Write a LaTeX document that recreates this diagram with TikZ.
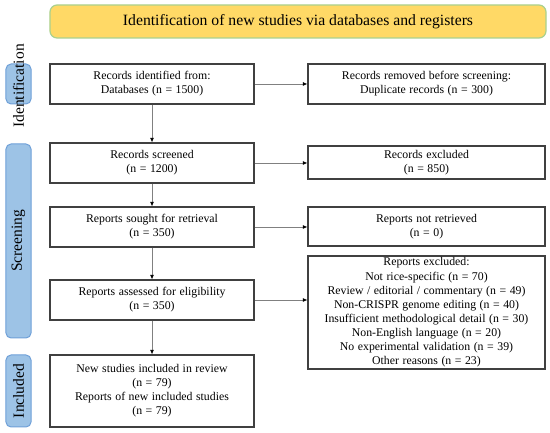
\documentclass[tikz,border=0pt]{standalone}
\usepackage{fontspec}
\setmainfont{Liberation Serif}
\usetikzlibrary{arrows.meta}
\definecolor{boxline}{HTML}{404040}
\definecolor{conn}{HTML}{808080}
\definecolor{titlefill}{HTML}{FFD966}
\definecolor{titleline}{HTML}{A9D18E}
\definecolor{sidefill}{HTML}{9DC3E6}
\definecolor{sideline}{HTML}{6FA0D8}
\newcommand\flowfont{\fontsize{11.8bp}{14.1bp}\selectfont\setlength{\spaceskip}{0.3em plus 0.1em}}
\tikzset{
  flowbox/.style={draw=boxline, line width=1.1bp, fill=white, align=center, inner sep=0pt,
    font=\flowfont},
  leftbox/.style={flowbox, minimum width=204bp},
  rightbox/.style={flowbox, minimum width=237bp},
  sidebox/.style={draw=sideline, fill=sidefill, line width=1bp, rounded corners=5bp, minimum width=25bp, inner sep=0pt},
  sidelabel/.style={rotate=90, font=\fontsize{15.5bp}{18bp}\selectfont, inner sep=0pt},
  conn/.style={draw=conn, line width=0.8bp, -{Latex[length=4.5bp,width=4bp,color=black]}},
}
\begin{document}
\begin{tikzpicture}[x=1bp,y=1bp]
\useasboundingbox (0,0) rectangle (550,433);
% title
\node[draw=titleline, fill=titlefill, line width=1.2bp, rounded corners=7bp, minimum width=496bp, minimum height=33bp,
  font=\fontsize{15.7bp}{18bp}\selectfont] (title) at (298,411.5) {Identification of new studies via databases and registers};
% side boxes
\node[sidebox, minimum height=40bp] (sid) at (18.5,349) {};
\node[sidelabel] (lid) at (18.5,347) {Identification};
\node[sidebox, minimum height=194bp] (ssc) at (18.5,192) {};
\node[sidelabel] (lsc) at (18.5,192) {Screening};
\node[sidebox, minimum height=72bp] (sin) at (18.5,42) {};
\node[sidelabel] (lin) at (18.5,42) {Included};
% left boxes
\node[leftbox, minimum height=40bp] (b1) at (152,349) {Records identified from:\\Databases (n = 1500)};
\node[leftbox, minimum height=40bp] (b2) at (152,270) {Records screened\\(n = 1200)};
\node[leftbox, minimum height=40bp] (b3) at (152,206) {Reports sought for retrieval\\(n = 350)};
\node[leftbox, minimum height=40bp] (b4) at (152,133) {Reports assessed for eligibility\\(n = 350)};
\node[leftbox, minimum height=72bp] (b5) at (152,42) {New studies included in review\\(n = 79)\\Reports of new included studies\\(n = 79)};
% right boxes
\node[rightbox, minimum height=40bp] (r1) at (426.5,349) {Records removed before screening:\\Duplicate records (n = 300)};
\node[rightbox, minimum height=33bp] (r2) at (426.5,270.5) {Records excluded\\(n = 850)};
\node[rightbox, minimum height=39bp] (r3) at (426.5,206.5) {Reports not retrieved\\(n = 0)};
\node[rightbox, minimum height=113bp] (r4) at (426.5,120.5) {Reports excluded:\\Not rice-specific (n = 70)\\Review / editorial / commentary (n = 49)\\Non-CRISPR genome editing (n = 40)\\Insufficient methodological detail (n = 30)\\Non-English language (n = 20)\\No experimental validation (n = 39)\\Other reasons (n = 23)};
% connectors
\draw[conn] (b1) -- (b2);
\draw[conn] (b2) -- (b3);
\draw[conn] (b3) -- (b4);
\draw[conn] (b4) -- (b5);
\draw[conn] (b1.east) -- (b1.east -| r1.west);
\draw[conn] (b2.east) -- (b2.east -| r2.west);
\draw[conn] (b3.east) -- (b3.east -| r3.west);
\draw[conn] (b4.east) -- (b4.east -| r4.west);
\end{tikzpicture}
\end{document}
